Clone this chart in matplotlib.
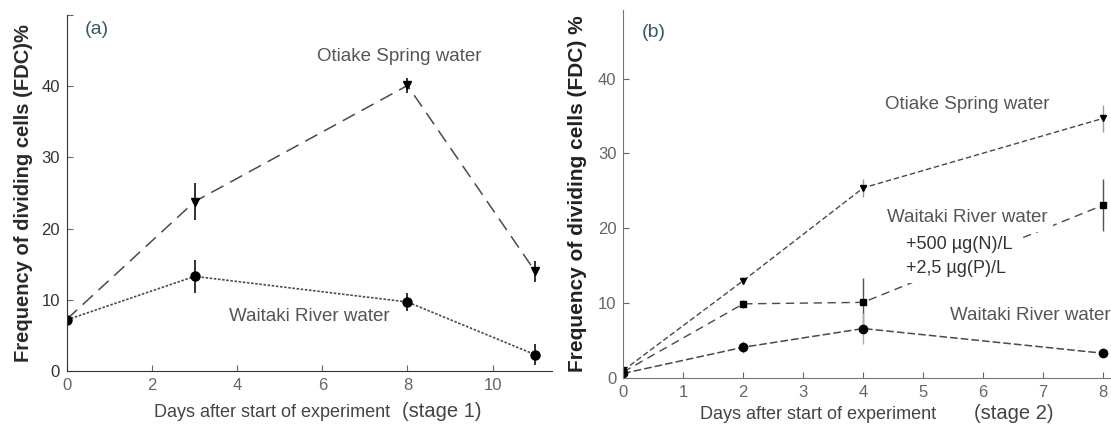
import numpy as np
import matplotlib.pyplot as plt

plt.rcParams['font.family'] = ['Liberation Sans', 'DejaVu Sans']

# Panel (a): stage 1
daysA = np.array([0, 3, 8, 11])
otiakeA = np.array([7.3, 23.8, 40.1, 14.0])
otiakeErrA = np.array([0.0, 2.6, 1.1, 1.5])
waitakiA = np.array([7.2, 13.3, 9.7, 2.3])
waitakiErrA = np.array([0.8, 2.3, 1.2, 1.5])

# Panel (b): stage 2
daysB = np.array([0, 2, 4, 8])
otiakeB = np.array([1.0, 13.0, 25.4, 34.7])
otiakeErrB = np.array([0.0, 0.5, 1.2, 1.8])
enrichedB = np.array([0.8, 9.9, 10.1, 23.1])
enrichedErrB = np.array([0.0, 0.5, 3.2, 3.5])
waitakiB = np.array([0.6, 4.1, 6.6, 3.3])
waitakiErrB = np.array([0.4, 0.8, 2.1, 0.5])

lineCol = "#4a4a4a"
textCol = "#555555"
tickCol = "#666666"
panelCol = "#3c5a66"

fig = plt.figure(figsize=(11.11, 4.28), dpi=100)
axA = fig.add_axes([0.0603, 0.133, 0.4367, 0.832])
axB = fig.add_axes([0.561, 0.117, 0.439, 0.860])


def styleAxis(ax):
    for s in ["top", "right"]:
        ax.spines[s].set_visible(False)
    ax.spines["left"].set_color("#333333")
    ax.spines["bottom"].set_color("#333333")
    ax.tick_params(direction="in", length=4, colors=tickCol, labelsize=12, pad=5)


# ---- panel a ----
axA.errorbar(daysA, otiakeA, yerr=otiakeErrA, fmt="none", ecolor="#222222", elinewidth=1.3)
axA.errorbar(daysA, waitakiA, yerr=waitakiErrA, fmt="none", ecolor="#222222", elinewidth=1.3)
axA.plot(daysA, otiakeA, color=lineCol, lw=1.1, dashes=(9, 5))
axA.plot(daysA, waitakiA, color=lineCol, lw=1.2, dashes=(1.5, 1))
axA.plot(daysA[1:], otiakeA[1:], "v", color="black", ms=6)
axA.plot(daysA, waitakiA, "o", color="black", ms=6.5)
axA.set_xlim(0, 11.4)
axA.set_ylim(0, 50)
axA.set_xticks([0, 2, 4, 6, 8, 10])
axA.set_yticks([0, 10, 20, 30, 40, 50], labels=["0", "10", "20", "30", "40", ""])
styleAxis(axA)
for lab in axA.get_yticklabels():
    lab.set_color("#333333")
axA.set_ylabel("Frequency of dividing cells (FDC)%", fontsize=14.5, fontweight="bold",
               color="#2a2a2a", labelpad=6)
axA.text(0.42, 47.9, "(a)", fontsize=14, color=panelCol, va="center")
axA.text(7.8, 44.1, "Otiake Spring water", fontsize=13.5, color=textCol, ha="center", va="center")
axA.text(5.7, 7.7, "Waitaki River water", fontsize=13.5, color=textCol, ha="center", va="center")
fig.text(0.139, 0.025, "Days after start of experiment", fontsize=13, color="#444444")
fig.text(0.362, 0.025, "(stage 1)", fontsize=14.5, color="#444444")

# ---- panel b ----
axB.errorbar(daysB, otiakeB, yerr=otiakeErrB, fmt="none", ecolor="#999999", elinewidth=1.0)
axB.errorbar(daysB, enrichedB, yerr=enrichedErrB, fmt="none", ecolor="#555555", elinewidth=1.0)
axB.errorbar(daysB, waitakiB, yerr=waitakiErrB, fmt="none", ecolor="#aaaaaa", elinewidth=1.0)
axB.plot(daysB, otiakeB, color=lineCol, lw=1.0, dashes=(4, 2))
axB.plot(daysB, enrichedB, color=lineCol, lw=1.0, dashes=(6, 4))
axB.plot(daysB, waitakiB, color=lineCol, lw=1.1, dashes=(5, 2))
axB.plot(daysB, otiakeB, "v", color="black", ms=5)
axB.plot(daysB, enrichedB, "s", color="black", ms=5)
axB.plot(daysB, waitakiB, "o", color="black", ms=6)
axB.set_xlim(0, 8.13)
axB.set_ylim(0, 49.2)
axB.set_xticks(range(0, 9))
axB.set_yticks([0, 10, 20, 30, 40])
styleAxis(axB)
axB.spines["bottom"].set_color("#777777")
axB.spines["left"].set_color("#777777")
axB.set_ylabel("Frequency of dividing cells (FDC) %", fontsize=15, fontweight="bold",
               color="#222222", labelpad=8)
axB.text(0.3, 46.2, "(b)", fontsize=14, color=panelCol, va="center")
box = dict(facecolor="white", edgecolor="none", pad=4)
axB.text(5.73, 36.5, "Otiake Spring water", fontsize=13.5, color=textCol, ha="center", va="center")
axB.text(5.73, 21.4, "Waitaki River water", fontsize=13.5, color=textCol, ha="center", va="center", bbox=box)
axB.text(4.72, 17.8, "+500 µg(N)/L", fontsize=13, color="#333333", va="center", bbox=box)
axB.text(4.72, 14.6, "+2,5 µg(P)/L", fontsize=13, color="#333333", va="center", bbox=box)
axB.text(8.12, 8.4, "Waitaki River water", fontsize=13.5, color=textCol, ha="right", va="center")
fig.text(0.630, 0.02, "Days after start of experiment", fontsize=13, color="#444444")
fig.text(0.877, 0.02, "(stage 2)", fontsize=14.5, color="#444444")

fig.savefig("out.png", dpi=100)
